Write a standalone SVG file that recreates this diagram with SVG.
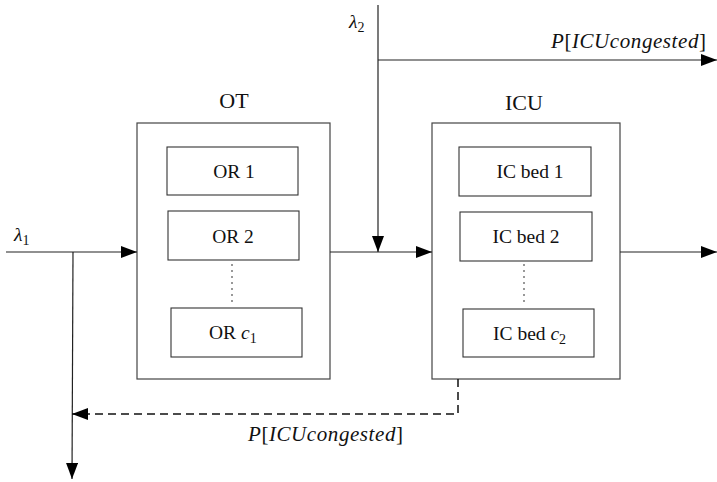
<svg xmlns="http://www.w3.org/2000/svg" width="717" height="482" viewBox="0 0 717 482">
  <defs>
    <marker id="arrow" markerUnits="userSpaceOnUse" markerWidth="17" markerHeight="12" refX="16" refY="6" orient="auto">
      <path d="M0,0 L16,6 L0,12 Z" fill="#000"/>
    </marker>
  </defs>
  <style>
    .box { fill: #fff; stroke: #444; stroke-width: 1.2; }
    .inner { fill: #fff; stroke: #333; stroke-width: 1.1; }
    .dots { stroke: #555; stroke-width: 1.2; stroke-dasharray: 2 4; fill: none; }
    .wire { stroke: #222; stroke-width: 1.2; fill: none; }
    .dash { stroke: #111; stroke-width: 1.5; fill: none; stroke-dasharray: 8 5; }
    .t { font-family: "Liberation Serif", "DejaVu Serif", serif; font-size: 19.5px; fill: #111; }
    .title { font-family: "Liberation Serif", "DejaVu Serif", serif; font-size: 22px; fill: #111; }
    .prob { font-family: "Liberation Serif", "DejaVu Serif", serif; font-size: 21px; fill: #111; }
    .m { font-style: italic; }
    .sub { font-size: 14px; }
  </style>

  <!-- Operating theatre -->
  <g id="OT">
    <text class="title" x="234" y="108" text-anchor="middle">OT</text>
    <rect class="box" x="137" y="123" width="193" height="256"/>
    <g id="OR1">
      <rect class="inner" x="167" y="147" width="131" height="48"/>
      <text class="t" x="234" y="178" text-anchor="middle">OR 1</text>
    </g>
    <g id="OR2">
      <rect class="inner" x="168" y="211" width="131" height="49"/>
      <text class="t" x="233" y="243" text-anchor="middle">OR 2</text>
    </g>
    <line class="dots" x1="232" y1="264" x2="232" y2="306"/>
    <g id="ORc1">
      <rect class="inner" x="171" y="308" width="131" height="49"/>
      <text class="t" x="209" y="339">OR <tspan class="m">c</tspan><tspan class="sub" dy="4">1</tspan></text>
    </g>
  </g>

  <!-- Intensive care unit -->
  <g id="ICU">
    <text class="title" x="524" y="110" text-anchor="middle">ICU</text>
    <rect class="box" x="432" y="123" width="188" height="256"/>
    <g id="ICbed1">
      <rect class="inner" x="459" y="147" width="132" height="49"/>
      <text class="t" x="530" y="178" text-anchor="middle">IC bed 1</text>
    </g>
    <g id="ICbed2">
      <rect class="inner" x="460" y="212" width="132" height="49"/>
      <text class="t" x="526" y="243" text-anchor="middle">IC bed 2</text>
    </g>
    <line class="dots" x1="524" y1="264" x2="524" y2="306"/>
    <g id="ICbedc2">
      <rect class="inner" x="463" y="309" width="131" height="48"/>
      <text class="t" x="493" y="340">IC bed <tspan class="m">c</tspan><tspan class="sub" dy="4">2</tspan></text>
    </g>
  </g>

  <!-- Flows between and around the units -->
  <g id="connectors">
    <line class="wire" x1="6" y1="252" x2="137" y2="252" marker-end="url(#arrow)"/>
    <line class="wire" x1="73" y1="252" x2="72" y2="479" marker-end="url(#arrow)"/>
    <line class="wire" x1="330" y1="252" x2="432" y2="252" marker-end="url(#arrow)"/>
    <line class="wire" x1="378" y1="5" x2="378" y2="252" marker-end="url(#arrow)"/>
    <line class="wire" x1="378" y1="60" x2="717" y2="60" marker-end="url(#arrow)"/>
    <line class="wire" x1="620" y1="252" x2="717" y2="252" marker-end="url(#arrow)"/>
    <polyline class="dash" points="458,379 458,414 72,414" marker-end="url(#arrow)"/>
  </g>

  <!-- Flow labels -->
  <g id="labels">
    <text class="t" x="14" y="241" font-size="21"><tspan class="m">λ</tspan><tspan class="sub" dy="4">1</tspan></text>
    <text class="t" x="349" y="28" font-size="21"><tspan class="m">λ</tspan><tspan class="sub" dy="4">2</tspan></text>
    <text class="prob" x="551" y="48" textLength="155" lengthAdjust="spacing"><tspan class="m">P</tspan>[<tspan class="m">ICUcongested</tspan>]</text>
    <text class="prob" x="248" y="441" textLength="155" lengthAdjust="spacing"><tspan class="m">P</tspan>[<tspan class="m">ICUcongested</tspan>]</text>
  </g>
</svg>
